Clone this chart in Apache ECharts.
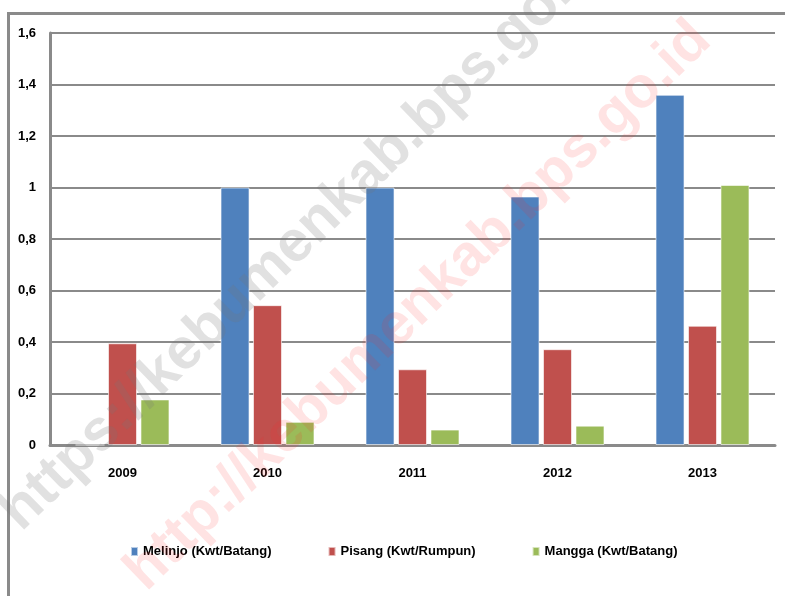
<!DOCTYPE html>
<html>
<head>
<meta charset="utf-8">
<script src="https://cdn.jsdelivr.net/npm/echarts@6/dist/echarts.min.js"></script>
<style>
	html, body { margin: 0; padding: 0; background: #fff; }
	#chart { width: 785px; height: 596px; }
</style>
</head>
<body>
<div id="chart"></div>
<script>
	// data
	var years = [ '2009', '2010', '2011', '2012', '2013' ];
	var melinjo = [ 0, 1.0, 1.0, 0.965, 1.36 ];
	var pisang = [ 0.395, 0.543, 0.294, 0.372, 0.463 ];
	var mangga = [ 0.177, 0.09, 0.06, 0.075, 1.01 ];
	var seriesNames = [ 'Melinjo (Kwt/Batang)', 'Pisang (Kwt/Rumpun)', 'Mangga (Kwt/Batang)' ];
	var seriesColors = [ '#4F81BD', '#C0504D', '#9BBB59' ];

	var labelFont = {
		color : '#000',
		fontFamily : 'Liberation Sans',
		fontWeight : 'bold',
		fontSize : 13
	};

	function makeBar(idx, values) {
		return {
			name : seriesNames[idx],
			type : 'bar',
			barWidth : 29,
			barGap : '12%',
			itemStyle : {
				color : seriesColors[idx],
				borderColor : 'rgba(255,255,255,0.6)',
				borderWidth : 1
			},
			data : values
		};
	}

	var myChart = echarts.init(document.getElementById('chart'), null, { renderer : 'canvas' });
	var option = {
		animation : false,
		backgroundColor : '#fff',
		textStyle : labelFont,
		grid : {
			left : 50,
			right : 10,
			top : 33,
			bottom : 151
		},
		legend : {
			bottom : 33,
			left : 125,
			itemWidth : 7,
			itemHeight : 9,
			itemGap : 56,
			icon : 'rect',
			textStyle : labelFont,
			data : seriesNames
		},
		xAxis : [ {
			type : 'category',
			data : years,
			axisTick : { show : false },
			axisLine : {
				show : true,
				lineStyle : { color : '#8a8a8a', width : 3 }
			},
			axisLabel : {
				margin : 22,
				color : '#000',
				fontFamily : 'Liberation Sans',
				fontWeight : 'bold',
				fontSize : 13
			}
		} ],
		yAxis : [ {
			type : 'value',
			min : 0,
			max : 1.6,
			interval : 0.2,
			axisTick : { show : false },
			axisLine : {
				show : true,
				lineStyle : { color : '#8a8a8a', width : 3 }
			},
			axisLabel : {
				margin : 14,
				color : '#000',
				fontFamily : 'Liberation Sans',
				fontWeight : 'bold',
				fontSize : 13,
				formatter : function(v) {
					return String(Math.round(v * 10) / 10).replace('.', ',');
				}
			},
			splitLine : {
				show : true,
				lineStyle : { color : '#8a8a8a', width : 2 }
			}
		} ],
		series : [ makeBar(0, melinjo), makeBar(1, pisang), makeBar(2, mangga) ],
		graphic : [ {
			type : 'rect',
			left : 6,
			top : 11,
			shape : { width : 800, height : 600 },
			style : { fill : 'none', stroke : '#8a8a8a', lineWidth : 3 },
			silent : true
		}, {
			// watermark, gray
			type : 'text',
			x : -10,
			y : 500,
			rotation : Math.PI / 4 * 0.98,
			style : {
				text : 'https://kebumenkab.bps.go.id',
				fill : 'rgba(120,120,120,0.22)',
				font : 'bold 58px "Liberation Sans"'
			},
			silent : true,
			z : 100
		}, {
			// watermark, red
			type : 'text',
			x : 115,
			y : 560,
			rotation : Math.PI / 4 * 0.98,
			style : {
				text : 'http://kebumenkab.bps.go.id',
				fill : 'rgba(255,40,40,0.13)',
				font : 'bold 58px "Liberation Sans"'
			},
			silent : true,
			z : 100
		} ]
	};
	myChart.setOption(option, true);
</script>
</body>
</html>
